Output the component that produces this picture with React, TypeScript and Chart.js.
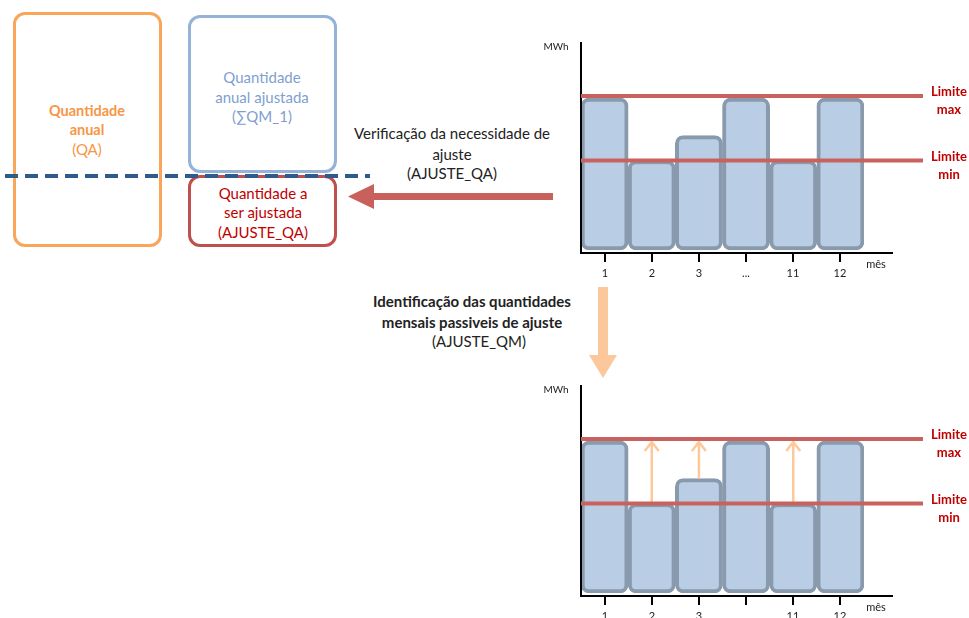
import React, { useEffect, useRef } from "react";
import { Chart, registerables } from "chart.js";

Chart.register(...registerables);

// ---- data ----
const monthLabelsTop = ["1", "2", "3", "...", "11", "12"];
const monthLabelsBottom = ["1", "2", "3", "", "11", "12"];
const monthlyQuantities = [73, 43, 55, 73, 43, 73];
const limitMax = 74;
const limitMin = 43;
const yAxisMin = -1;
const yAxisMax = 100;
const limitNames = [
  ["Limite", "max"],
  ["Limite", "min"],
];

const FONT = "Lato, 'Open Sans', sans-serif";

function makePlugin(showArrows: boolean) {
  return {
    id: "diagramDecor",
    afterDatasetsDraw(chart: any) {
      const { ctx, chartArea } = chart;
      const xs = chart.scales.x;
      const ys = chart.scales.y;
      const { left, right, top, bottom } = chartArea;
      ctx.save();
      // axes
      ctx.strokeStyle = "#000";
      ctx.lineWidth = 2;
      ctx.beginPath();
      ctx.moveTo(left, top);
      ctx.lineTo(left, bottom + 2);
      ctx.moveTo(left - 1, bottom + 1);
      ctx.lineTo(right + 29, bottom + 1);
      ctx.stroke();
      // ticks and labels
      const labels = chart.data.labels as string[];
      ctx.fillStyle = "#222";
      ctx.font = `11px ${FONT}`;
      ctx.textAlign = "center";
      ctx.textBaseline = "middle";
      labels.forEach((lab, i) => {
        const x = Math.round(xs.getPixelForValue(i));
        ctx.beginPath();
        ctx.moveTo(x, bottom + 2);
        ctx.lineTo(x, bottom + 10);
        ctx.stroke();
        ctx.fillText(lab, x, bottom + 21);
      });
      ctx.fillText("mês", right + 12, bottom + 12);
      ctx.font = `10px ${FONT}`;
      ctx.fillText("MWh", left - 25, top + 5);

      // adjustment arrows
      if (showArrows) {
        const vals = chart.data.datasets[0].data as number[];
        const tipY = ys.getPixelForValue(limitMax) + 3;
        ctx.strokeStyle = "#fdc99b";
        ctx.lineWidth = 2.5;
        vals.forEach((v, i) => {
          if (v < limitMax - 2) {
            const x = xs.getPixelForValue(i);
            const y0 = ys.getPixelForValue(v);
            ctx.beginPath();
            ctx.moveTo(x, y0);
            ctx.lineTo(x, tipY);
            ctx.moveTo(x - 7, tipY + 9);
            ctx.lineTo(x, tipY);
            ctx.lineTo(x + 7, tipY + 9);
            ctx.stroke();
          }
        });
      }

      // limit lines
      [limitMax, limitMin].forEach((lim, k) => {
        const y = ys.getPixelForValue(lim);
        ctx.strokeStyle = "#c9625e";
        ctx.lineWidth = 4;
        ctx.beginPath();
        ctx.moveTo(left, y);
        ctx.lineTo(right + 59, y);
        ctx.stroke();
        ctx.fillStyle = "#c00000";
        ctx.font = `bold 13px ${FONT}`;
        ctx.textAlign = "center";
        ctx.fillText(limitNames[k][0], right + 85, y - 4);
        ctx.fillText(limitNames[k][1], right + 85, y + 14);
      });
      ctx.restore();
    },
  };
}

function MonthlyChart({ labels, top, showArrows }: { labels: string[]; top: number; showArrows: boolean }) {
  const ref = useRef<HTMLCanvasElement>(null);
  useEffect(() => {
    if (!ref.current) return;
    const chart = new Chart(ref.current, {
      type: "bar",
      data: {
        labels,
        datasets: [
          {
            data: monthlyQuantities,
            backgroundColor: "#b9cde5",
            borderColor: "#8a9aad",
            borderWidth: 4,
            borderRadius: 8,
            borderSkipped: false,
            categoryPercentage: 1,
            barPercentage: 1,
          },
        ],
      },
      options: {
        animation: false,
        responsive: false,
        devicePixelRatio: 1,
        layout: { padding: { left: 51, right: 105, top: 12, bottom: 28 } },
        scales: {
          x: { display: false },
          y: { display: false, min: yAxisMin, max: yAxisMax },
        },
        plugins: { legend: { display: false }, tooltip: { enabled: false } },
      },
      plugins: [makePlugin(showArrows)],
    });
    return () => chart.destroy();
  }, []);
  return (
    <canvas
      ref={ref}
      width={439}
      height={250}
      style={{ position: "absolute", left: 530, top, width: 439, height: 250 }}
    />
  );
}

function Txt({ x, y, children, color, bold, size }: any) {
  return (
    <div
      style={{
        position: "absolute",
        left: x,
        top: y,
        transform: "translate(-50%, -50%)",
        whiteSpace: "nowrap",
        color,
        fontWeight: bold ? 700 : 400,
        fontSize: size,
        fontFamily: FONT,
        lineHeight: 1,
      }}
    >
      {children}
    </div>
  );
}

function Box({ x, y, w, h, color }: any) {
  return (
    <div
      style={{
        position: "absolute",
        left: x,
        top: y,
        width: w,
        height: h,
        boxSizing: "border-box",
        border: `3px solid ${color}`,
        borderRadius: 12,
      }}
    />
  );
}

export default function App() {
  return (
    <div
      style={{
        position: "fixed",
        left: 0,
        top: 0,
        width: 969,
        height: 618,
        overflow: "hidden",
        background: "#fff",
        fontFamily: FONT,
      }}
    >
      <Box x={13} y={12} w={149} h={235} color="#f9a65a" />
      <Box x={188} y={15} w={149} h={158} color="#95b3d7" />
      <Box x={188} y={175} w={149} h={72} color="#c0504d" />

      <Txt x={87} y={111} color="#f79646" bold size={14.5}>Quantidade</Txt>
      <Txt x={87} y={130} color="#f79646" bold size={14.5}>anual</Txt>
      <Txt x={87} y={149} color="#f79646" size={15}>(QA)</Txt>

      <Txt x={262} y={77} color="#7f9fd0" size={15}>Quantidade</Txt>
      <Txt x={262} y={97} color="#7f9fd0" size={15}>anual ajustada</Txt>
      <Txt x={262} y={116} color="#7f9fd0" size={15}>(∑QM_1)</Txt>

      <Txt x={263} y={193} color="#c00000" size={15}>Quantidade a</Txt>
      <Txt x={263} y={212} color="#c00000" size={15}>ser ajustada</Txt>
      <Txt x={263} y={232} color="#c00000" size={15}>(AJUSTE_QA)</Txt>

      <Txt x={452} y={133} color="#222" size={15}>Verificação da necessidade de</Txt>
      <Txt x={452} y={154} color="#222" size={15}>ajuste</Txt>
      <Txt x={452} y={173} color="#222" size={15}>(AJUSTE_QA)</Txt>

      <Txt x={472} y={301} color="#222" bold size={15}>Identificação das quantidades</Txt>
      <Txt x={472} y={322} color="#222" bold size={15}>mensais passiveis de ajuste</Txt>
      <Txt x={479} y={341} color="#222" size={15}>(AJUSTE_QM)</Txt>

      <svg width={969} height={618} style={{ position: "absolute", left: 0, top: 0 }}>
        <line x1={5} y1={176} x2={370} y2={176} stroke="#2e5b8e" strokeWidth={4} strokeDasharray="13 7" />
        <polygon points="553,193 374,193 374,184 348,196.5 374,209 374,200 553,200" fill="#c8605b" />
        <polygon points="598,287 608,287 608,355 617,355 603,378 589,355 598,355" fill="#fcc89b" />
      </svg>

      <MonthlyChart labels={monthLabelsTop} top={30} showArrows={false} />
      <MonthlyChart labels={monthLabelsBottom} top={373} showArrows={true} />
    </div>
  );
}
